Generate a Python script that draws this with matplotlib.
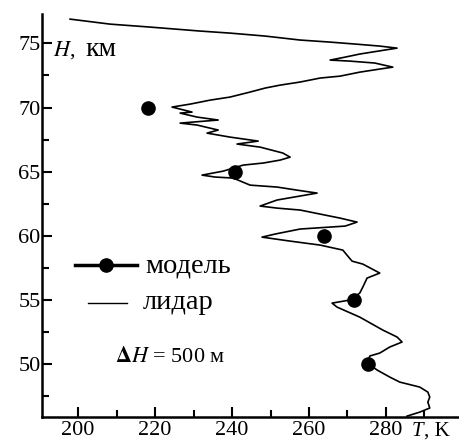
import matplotlib
matplotlib.use("Agg")
import matplotlib.pyplot as plt
from matplotlib.lines import Line2D
from matplotlib.ticker import MultipleLocator

plt.rcParams['font.family'] = ['Liberation Serif', 'DejaVu Serif']
plt.rcParams['mathtext.fontset'] = 'stix'

# lidar temperature profile, T in K, H in km (top to bottom)
lidar_T = [197.9, 208.3, 218.7, 231.7, 239.5, 248.6, 257.7, 265.5, 271.9, 278.4,
           282.9, 279.7, 273.2, 269.4, 265.5, 270.6, 277.1, 281.8, 278.4, 273.2,
           268.1, 262.9, 257.7, 252.5, 248.6, 244.7, 239.5, 234.3, 229.1, 224.4,
           229.6, 226.5, 230.9, 236.4, 226.5, 230.9, 236.4, 233.5, 239.5, 246.8,
           241.3, 247.3, 253.2, 255.1, 252.5, 248.1, 242.9, 237.7, 232.2, 235.6,
           240.3, 244.7, 251.7, 256.9, 262.1, 251.7, 247.3, 251.7, 257.7, 268.1,
           272.5, 269.4, 257.7, 251.2, 247.8, 255.1, 262.9, 268.8, 270.1, 271.2,
           274.0, 278.4, 275.1, 274.0, 273.2, 270.6, 266.0, 267.3, 273.2, 279.2,
           282.9, 284.2, 281.0, 278.4, 275.8, 275.3, 277.7, 281.0, 283.6, 288.8,
           290.9, 291.4, 290.9, 291.4, 288.8, 285.5]
lidar_H = [76.89, 76.50, 76.27, 75.96, 75.80, 75.57, 75.26, 75.10, 74.95, 74.79,
           74.63, 74.48, 74.17, 73.93, 73.70, 73.62, 73.47, 73.15, 73.00, 72.76,
           72.45, 72.30, 71.99, 71.75, 71.52, 71.21, 70.82, 70.58, 70.27, 70.04,
           69.65, 69.57, 69.26, 69.03, 68.79, 68.64, 68.25, 68.01, 67.70, 67.39,
           67.16, 66.92, 66.46, 66.14, 65.91, 65.68, 65.52, 65.05, 64.74, 64.59,
           64.51, 63.96, 63.81, 63.57, 63.34, 62.80, 62.33, 62.17, 62.02, 61.39,
           61.08, 60.77, 60.54, 60.15, 59.91, 59.60, 59.29, 58.90, 58.43, 58.04,
           57.81, 57.11, 56.72, 56.02, 55.55, 55.01, 54.77, 54.46, 53.68, 52.67,
           52.13, 51.74, 51.35, 50.88, 50.65, 50.10, 49.56, 49.01, 48.62, 48.23,
           47.84, 47.45, 47.06, 46.60, 46.28, 45.97]

# model points
model_T = [218.1, 240.9, 264.0, 271.7, 275.4]
model_H = [70, 65, 60, 55, 50]

fig = plt.figure(figsize=(4.59, 4.41), dpi=100)
ax = fig.add_axes([0.0915, 0.055, 0.9085, 0.913])

ax.plot(lidar_T, lidar_H, color='black', lw=1.2)
ax.plot(model_T, model_H, 'o', color='black', ms=9.5)

ax.set_xlim(190.6, 299)
ax.set_ylim(45.92, 77.28)

ax.spines['top'].set_visible(False)
ax.spines['right'].set_visible(False)
ax.spines['left'].set_linewidth(1.8)
ax.spines['bottom'].set_linewidth(1.8)

ax.xaxis.set_major_locator(MultipleLocator(20))
ax.xaxis.set_minor_locator(MultipleLocator(10))
ax.yaxis.set_major_locator(MultipleLocator(5))
ax.yaxis.set_minor_locator(MultipleLocator(2.5))
ax.tick_params(which='both', direction='in', width=1.5, labelsize=16, pad=3)
ax.tick_params(which='major', length=7)
ax.tick_params(which='minor', length=5)
ax.tick_params(axis='y', pad=1)
ax.set_xticks([200, 220, 240, 260, 280])

# axis labels
ax.text(0.026, 0.897, r"$\mathit{H}$,", transform=ax.transAxes,
        fontsize=16, va='baseline', ha='left')
ax.text(0.103, 0.897, "км", transform=ax.transAxes,
        fontsize=20, va='baseline', ha='left')
ax.text(0.886, -0.047, "T", transform=ax.transAxes, fontsize=15,
        fontstyle='italic', va='baseline', ha='left')
ax.text(0.915, -0.047, ", K", transform=ax.transAxes, fontsize=15,
        va='baseline', ha='left')
ax.text(0.175, 0.148, r"$\mathbf{\Delta}\mathit{H}$ = 500 м", transform=ax.transAxes,
        fontsize=16, va='center', ha='left')

# legend drawn by hand so the two keys get their own lengths
ax.add_line(Line2D([0.079, 0.228], [0.377, 0.377], transform=ax.transAxes,
                   color='black', lw=2.5))
ax.add_line(Line2D([0.153], [0.377], transform=ax.transAxes, marker='o',
                   ms=9.5, color='black'))
ax.add_line(Line2D([0.110, 0.204], [0.282, 0.282], transform=ax.transAxes,
                   color='black', lw=1.0))
ax.text(0.247, 0.359, "модель", transform=ax.transAxes, fontsize=20.5,
        va='baseline', ha='left')
ax.text(0.242, 0.267, "лидар", transform=ax.transAxes, fontsize=20.5,
        va='baseline', ha='left')

fig.savefig('out.png', dpi=100)
